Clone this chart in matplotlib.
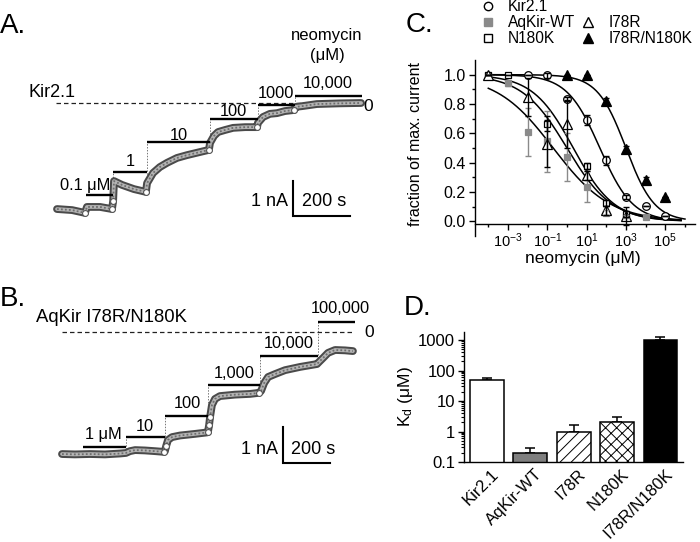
import numpy as np
import matplotlib
matplotlib.use('Agg')
import matplotlib.pyplot as plt
import matplotlib.patheffects as pe
from matplotlib.lines import Line2D
from matplotlib import ticker

plt.rcParams['font.family'] = ['Liberation Sans', 'DejaVu Sans']
plt.rcParams['mathtext.fontset'] = 'custom'
plt.rcParams['mathtext.rm'] = 'Liberation Sans'
plt.rcParams['mathtext.it'] = 'Liberation Sans:italic'
plt.rcParams['mathtext.bf'] = 'Liberation Sans:bold'
plt.rcParams['axes.unicode_minus'] = False
plt.rcParams['hatch.linewidth'] = 0.7

# ---------------- data ----------------
# Panel A: Kir2.1 current trace (time in s, current in nA relative to zero-current level)
a_time = [0, 53, 98, 105, 151, 193, 197, 200, 228, 270, 312, 316, 337, 361, 386, 421, 456, 502,
          533, 537, 551, 565, 590, 618, 660, 702, 705, 723, 747, 772, 800, 832, 839, 860, 912, 993, 1067]
a_curr = [-3.03, -3.06, -3.14, -2.97, -2.97, -3.03, -2.80, -2.23, -2.34, -2.46, -2.54, -2.29, -2.00,
          -1.83, -1.71, -1.57, -1.49, -1.40, -1.34, -1.14, -0.94, -0.83, -0.77, -0.71, -0.69, -0.69,
          -0.57, -0.40, -0.31, -0.29, -0.23, -0.20, -0.11, -0.09, -0.03, -0.01, 0.0]
a_marks = [2, 5, 6, 10, 18, 25, 31]
a_labels = ['0.1 μM', '1', '10', '100', '1000', '10,000']
a_on = [102, 197, 316, 537, 705, 835]
a_off = [197, 316, 537, 705, 835, 1070]
a_level = [-2.63, -1.96, -1.11, -0.46, -0.06, 0.20]
a_drop = [None, -2.80, -2.29, -1.14, -0.57, -0.20]

# Panel B: AqKir I78R/N180K current trace
b_time = [0, 55, 119, 183, 247, 272, 289, 311, 353, 396, 434, 438, 443, 451, 468, 502, 566, 617,
          621, 626, 630, 638, 651, 672, 736, 800, 838, 847, 860, 877, 906, 949, 1013, 1085,
          1094, 1111, 1132, 1162, 1204, 1238]
b_curr = [-3.39, -3.40, -3.39, -3.40, -3.375, -3.36, -3.31, -3.28, -3.29, -3.31, -3.33, -3.31,
          -3.17, -3.00, -2.92, -2.875, -2.83, -2.79, -2.78, -2.58, -2.36, -2.03, -1.86, -1.78,
          -1.74, -1.72, -1.69, -1.64, -1.42, -1.25, -1.17, -1.06, -0.97, -0.89, -0.83, -0.72,
          -0.58, -0.50, -0.51, -0.53]
b_marks = [10, 12, 18, 19, 20, 26]
b_labels = ['1 μM', '10', '100', '1,000', '10,000', '100,000']
b_on = [89, 272, 438, 621, 843, 1089]
b_off = [272, 438, 621, 843, 1089, 1247]
b_level = [-3.19, -2.92, -2.33, -1.47, -0.67, 0.28]
b_drop = [None, -3.33, -3.31, -2.78, -1.69, -0.80]

scale_time = 200   # s
scale_curr = 1     # nA

# Panel C: dose-response (neomycin exponent of concentration in uM)
kir_exp = [-2, -1, 0, 1, 2, 3, 4, 5]
kir_val = [1.0, 0.995, 0.835, 0.69, 0.415, 0.165, 0.105, 0.034]
kir_err = [0.0, 0.015, 0.015, 0.035, 0.03, 0.015, 0.0, 0.0]
aq_exp = [-4, -3, -2, -1, 0, 1, 2, 3, 4]
aq_val = [1.0, 0.94, 0.61, 0.545, 0.44, 0.235, 0.06, 0.03, 0.03]
aq_err = [0.0, 0.02, 0.165, 0.21, 0.165, 0.105, 0.02, 0.01, 0.01]
n180_exp = [-4, -3, -1, 1, 2, 3]
n180_val = [1.0, 1.0, 0.665, 0.375, 0.125, 0.048]
n180_err = [0.0, 0.0, 0.05, 0.02, 0.02, 0.02]
i78_exp = [-4, -2, -1, 0, 1, 2, 3]
i78_val = [1.0, 0.85, 0.53, 0.665, 0.315, 0.075, 0.035]
i78_err = [0.0, 0.13, 0.16, 0.165, 0.03, 0.03, 0.06]
dm_exp = [0, 1, 2, 3, 4, 5]
dm_val = [1.0, 1.0, 0.823, 0.494, 0.279, 0.165]
dm_err = [0.0, 0.0, 0.02, 0.02, 0.02, 0.0]

# Hill fits (Kd in uM, Hill coefficient)
fit_names = ['Kir2.1', 'AqKir-WT', 'I78R', 'N180K', 'I78R/N180K']
fit_kd = [47, 0.2, 1.0, 2.1, 1000]
fit_n = [0.52, 0.30, 0.38, 0.42, 0.60]
fit_end = [5.8, 5.8, 5.8, 5.8, 6.0]

# Panel D: Kd values
d_names = ['Kir2.1', 'AqKir-WT', 'I78R', 'N180K', 'I78R/N180K']
d_kd = [48, 0.2, 0.95, 2.1, 980]
d_err = [8, 0.09, 0.7, 1.0, 280]

# ---------------- figure ----------------
W, H = 700, 542
fig = plt.figure(figsize=(7, 5.42), dpi=100)


def fx(px):
    return px / W


def fy(py):
    return 1 - py / H


def ftext(px, py, s, **kw):
    kw.setdefault('va', 'baseline')
    fig.text(fx(px), fy(py), s, **kw)


LETTER = 20


def draw_trace(ax, t, i, marks, on, off, level, drop, zero_span):
    t = np.asarray(t, float)
    i = np.asarray(i, float)
    ax.plot(t, i, color='#b4b4b4', lw=2.7, solid_joinstyle='round', solid_capstyle='round',
            path_effects=[pe.Stroke(linewidth=5.6, foreground='#4a4a4a'), pe.Normal()], zorder=2)
    ax.plot(t, i, color='#6e6e6e', lw=1.3, dashes=(1.0, 1.2), zorder=2.1)
    ax.plot(t[marks], i[marks], ls='none', marker='o', ms=4.2, mfc='white', mec='#555555',
            mew=0.8, zorder=3)
    ax.hlines(level, on, off, color='black', lw=1.7, zorder=4)
    for k in range(1, len(on)):
        ax.vlines(on[k], drop[k], level[k], color='#777777', lw=0.7,
                  linestyles=(0, (1.5, 1.5)), zorder=1)
    ax.plot(zero_span, [0, 0], color='#222222', lw=0.9, dashes=(3.6, 2.4), zorder=1)


def scale_bar(ax, t0, i0):
    ax.plot([t0, t0, t0 + scale_time], [i0 + scale_curr, i0, i0], color='black', lw=1.5,
            solid_joinstyle='miter')


# ---- Panel A ----
ax_a = fig.add_axes([0, fy(260), 380 / W, 260 / H])
ax_a.set_xlim(-200, 1133.4)
ax_a.set_ylim(-4.486, 2.943)
ax_a.axis('off')
draw_trace(ax_a, a_time, a_curr, a_marks, a_on, a_off, a_level, a_drop, [-3.5, 1063])
scale_bar(ax_a, 828, -3.23)

ftext(0, 33, 'A.', fontsize=LETTER, ha='left')
ftext(28, 97, 'Kir2.1', fontsize=13, ha='left')
ftext(327, 40, 'neomycin', fontsize=12, ha='center')
ftext(327, 60, '(μM)', fontsize=12, ha='center')
ftext(368, 111, '0', fontsize=12.5, ha='center')
a_label_pos = [(84.7, 190), (130, 166), (179, 140), (233, 116), (276, 97.7), (328, 87.5)]
for lab, (px, py) in zip(a_labels, a_label_pos):
    ftext(px, py, lab, fontsize=11.8, ha='center')
ftext(288, 206, '1 nA', fontsize=13, ha='right')
ftext(302, 206, '200 s', fontsize=13, ha='left')

# ---- Panel B ----
ax_b = fig.add_axes([0, fy(480), 380 / W, 210 / H])
ax_b.set_xlim(-263.8, 1353.1)
ax_b.set_ylim(-4.111, 1.722)
ax_b.axis('off')
draw_trace(ax_b, b_time, b_curr, b_marks, b_on, b_off, b_level, b_drop, [0, 1234])
scale_bar(ax_b, 940, -3.63)

ftext(0, 306, 'B.', fontsize=LETTER, ha='left')
ftext(36, 321.7, 'AqKir I78R/N180K', fontsize=13.3, ha='left')
ftext(369, 337, '0', fontsize=12.5, ha='center')
b_label_pos = [(103, 439.3), (144.5, 430.7), (187.5, 407.7), (234, 378), (289, 348), (340, 313.3)]
for lab, (px, py) in zip(b_labels, b_label_pos):
    ftext(px, py, lab, fontsize=11.8, ha='center')
ftext(278, 454.3, '1 nA', fontsize=13, ha='right')
ftext(291, 454.3, '200 s', fontsize=13, ha='left')

# ---- Panel C ----
ax_c = fig.add_axes([fx(475), fy(236), 220 / W, 176 / H])
ax_c.set_xscale('log')
ax_c.set_xlim(10 ** -4.676, 10 ** 6.51)
ax_c.set_ylim(-0.1, 1.1)
for s in ['top', 'right']:
    ax_c.spines[s].set_visible(False)
ax_c.spines['bottom'].set_position(('data', -0.02))
for s in ['left', 'bottom']:
    ax_c.spines[s].set_linewidth(1.0)

for kd, n, e in zip(fit_kd, fit_n, fit_end):
    xx = np.logspace(-4, e, 300)
    ax_c.plot(xx, 1.0 / (1.0 + (xx / kd) ** n), color='black', lw=1.1, zorder=2)

series = [
    (kir_exp, kir_val, kir_err, dict(marker='o', mfc='white', mec='black', ms=5.5), 'black'),
    (aq_exp, aq_val, aq_err, dict(marker='s', mfc='#8a8a8a', mec='#8a8a8a', ms=5), '#8a8a8a'),
    (n180_exp, n180_val, n180_err, dict(marker='s', mfc='white', mec='black', ms=5), 'black'),
    (i78_exp, i78_val, i78_err, dict(marker='^', mfc='white', mec='black', ms=6.5), 'black'),
    (dm_exp, dm_val, dm_err, dict(marker='^', mfc='black', mec='black', ms=6.5), 'black'),
]
for ex, v, er, mk, ec in series:
    xx = 10.0 ** np.asarray(ex, float)
    ax_c.plot(xx, v, ls='none', mew=0.9, zorder=3, **mk)
    ax_c.errorbar(xx, v, yerr=er, fmt='none', ecolor=ec, elinewidth=1.0, capsize=2.2,
                  capthick=1.0, zorder=4)

ax_c.xaxis.set_major_locator(ticker.FixedLocator(10.0 ** np.arange(-3, 6, 2)))
ax_c.xaxis.set_minor_locator(ticker.FixedLocator(10.0 ** np.arange(-4, 7, 2)))
ax_c.xaxis.set_major_formatter(ticker.LogFormatterSciNotation())
ax_c.xaxis.set_minor_formatter(ticker.NullFormatter())
ax_c.yaxis.set_major_locator(ticker.FixedLocator([0, 0.2, 0.4, 0.6, 0.8, 1.0]))
ax_c.yaxis.set_minor_locator(ticker.FixedLocator([0.1, 0.3, 0.5, 0.7, 0.9]))
ax_c.yaxis.set_major_formatter(ticker.FormatStrFormatter('%.1f'))
ax_c.tick_params(which='major', direction='out', length=4.3, width=1.0, pad=2.5)
ax_c.tick_params(which='minor', direction='out', length=2.4, width=1.0)
ax_c.tick_params(axis='y', labelsize=11.5)
ax_c.tick_params(axis='x', labelsize=10.5, pad=1.0)
ax_c.set_ylabel('fraction of max. current', fontsize=11.5)
ax_c.yaxis.set_label_coords((422.5 - 475) / 220, 0.52)
ax_c.set_xlabel('neomycin (μM)', fontsize=12.5)
ax_c.xaxis.set_label_coords(0.49, (236 - 251) / 176)

h_kir = Line2D([], [], ls='none', marker='o', mfc='white', mec='black', ms=6, mew=1)
h_aq = Line2D([], [], ls='none', marker='s', mfc='#8a8a8a', mec='#8a8a8a', ms=6, mew=1)
h_n = Line2D([], [], ls='none', marker='s', mfc='white', mec='black', ms=6, mew=1)
h_blank = Line2D([], [], ls='none')
h_i78 = Line2D([], [], ls='none', marker='^', mfc='white', mec='black', ms=7.5, mew=1)
h_dm = Line2D([], [], ls='none', marker='^', mfc='black', mec='black', ms=7.5, mew=1)
ax_c.legend([h_kir, h_aq, h_n, h_blank, h_i78, h_dm],
            ['Kir2.1', 'AqKir-WT', 'N180K', '', 'I78R', 'I78R/N180K'],
            ncol=2, loc='upper left', bbox_to_anchor=(fx(481), fy(-1)),
            bbox_transform=fig.transFigure, frameon=False, fontsize=11.2,
            handlelength=0.9, handletextpad=0.85, columnspacing=0.35, labelspacing=0.08,
            borderpad=0, borderaxespad=0)

ftext(406, 32, 'C.', fontsize=LETTER, ha='left')

# ---- Panel D ----
ax_d = fig.add_axes([fx(464), fy(462), (683 - 464) / W, (462 - 332) / H])
ax_d.set_yscale('log')
xpos = np.arange(len(d_names))
fills = ['white', '#7f7f7f', 'white', 'white', 'black']
hatches = [None, None, '///', 'xxx', None]
bars = ax_d.bar(xpos, d_kd, width=0.78, color=fills, edgecolor='black', linewidth=1.1, zorder=2)
for b, h in zip(bars, hatches):
    if h:
        b.set_hatch(h)
ax_d.errorbar(xpos, d_kd, yerr=[np.zeros(len(d_kd)), d_err], fmt='none', ecolor='black',
              elinewidth=1.1, capsize=3.5, capthick=1.1, zorder=1)
ax_d.set_xlim(-0.53, 4.52)
ax_d.set_ylim(0.1, 1830)
for s in ['top', 'right']:
    ax_d.spines[s].set_visible(False)
for s in ['left', 'bottom']:
    ax_d.spines[s].set_linewidth(1.0)
ax_d.yaxis.set_major_locator(ticker.LogLocator(base=10, numticks=10))
ax_d.yaxis.set_minor_locator(ticker.LogLocator(base=10, subs=np.arange(2, 10), numticks=40))
ax_d.yaxis.set_major_formatter(ticker.FuncFormatter(lambda v, p: f'{v:g}'))
ax_d.yaxis.set_minor_formatter(ticker.NullFormatter())
ax_d.tick_params(axis='y', which='major', direction='out', length=4.3, width=1.0, pad=2,
                 labelsize=12)
ax_d.tick_params(axis='y', which='minor', direction='out', length=2.4, width=0.8)
ax_d.set_xticks(xpos + 0.22)
ax_d.set_xticklabels(d_names, fontsize=12)
ax_d.tick_params(axis='x', length=0, pad=7)
for lbl in ax_d.get_xticklabels():
    lbl.set_rotation(45)
    lbl.set_ha('right')
    lbl.set_va('center')
    lbl.set_rotation_mode('anchor')
ax_d.set_ylabel(r'K$_{\mathregular{d}}$ (μM)', fontsize=12.5)
ax_d.yaxis.set_label_coords((415 - 464) / 219, 0.5)

ftext(404, 315, 'D.', fontsize=LETTER, ha='left')

fig.savefig('out.png', dpi=100)
